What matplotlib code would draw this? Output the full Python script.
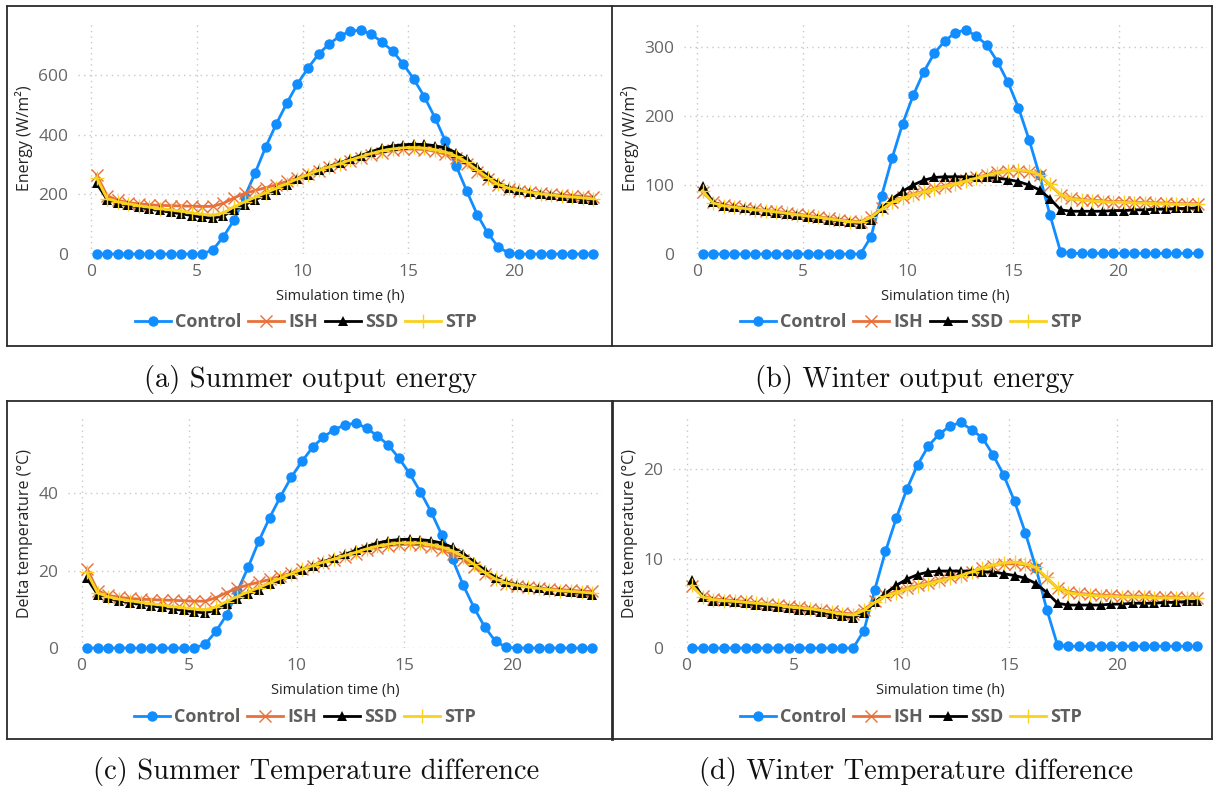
import numpy as np
import matplotlib.pyplot as plt
from matplotlib.lines import Line2D

W, H = 1214, 789

# time axis: half-hour samples
hours = np.arange(0.25, 24.0, 0.5)
series_names = ['Control', 'ISH', 'SSD', 'STP']

# (a) summer output energy (W/m2)
control_a = [0, 0, 0, 0, 0, 0, 0, 0, 0, 0, 0,
             14, 58, 114, 191, 272, 359, 436, 506, 570, 623,
             670, 704, 730, 747, 750, 736, 710, 680, 637, 586,
             527, 457, 378, 296, 212, 132, 70, 23, 3,
             0, 0, 0, 0, 0, 0, 0, 0]
ish_a = [265, 195, 180, 172, 168, 165, 163, 162, 161, 160,
         159, 160, 170, 188, 203, 213, 222, 232, 243, 255,
         267, 279, 290, 300, 311, 322, 332, 340, 347, 351,
         352, 350, 344, 334, 320, 300, 275, 250, 230, 218,
         212, 207, 203, 200, 197, 195, 193, 190]
ssd_a = [237, 182, 170, 163, 157, 151, 146, 140, 135, 129,
         123, 120, 128, 148, 165, 182, 198, 215, 232, 250,
         265, 280, 293, 305, 318, 330, 343, 355, 362, 366,
         368, 367, 363, 355, 340, 318, 290, 262, 237, 222,
         213, 207, 202, 197, 193, 189, 185, 181]
stp_a = [255, 185, 175, 168, 162, 157, 152, 148, 143, 138,
         133, 130, 138, 158, 175, 190, 205, 220, 236, 252,
         266, 280, 292, 303, 315, 326, 337, 346, 352, 356,
         357, 355, 350, 342, 328, 308, 282, 256, 233, 220,
         213, 207, 202, 198, 194, 191, 188, 185]

# (b) winter output energy (W/m2)
control_b = [0, 0, 0, 0, 0, 0, 0, 0, 0, 0, 0, 0, 0, 0, 0, 0,
             25, 84, 139, 189, 230, 264, 291, 309, 321, 325,
             316, 303, 279, 249, 212, 166, 114, 56, 3,
             1, 1, 1, 1, 1, 1, 1, 1, 1, 1, 1, 1, 1]
ish_b = [90, 75, 71, 69, 67, 65, 63, 62, 60, 58,
         56, 54, 52, 50, 48, 47, 54, 66, 76, 82,
         87, 91, 95, 99, 103, 107, 111, 115, 119, 121,
         121, 119, 114, 100, 86, 81, 79, 78, 77, 76,
         76, 75, 75, 74, 74, 73, 73, 73]
ssd_b = [98, 75, 70, 68, 66, 64, 62, 60, 58, 56,
         54, 52, 50, 48, 46, 44, 50, 66, 80, 91,
         100, 107, 111, 112, 112, 112, 111, 111, 110, 108,
         105, 100, 93, 80, 64, 62, 62, 62, 62, 63,
         63, 64, 64, 65, 65, 66, 66, 67]
stp_b = [92, 74, 70, 68, 66, 64, 63, 61, 59, 57,
         55, 53, 51, 49, 47, 46, 53, 65, 75, 81,
         86, 90, 94, 98, 102, 106, 110, 114, 118, 121,
         122, 120, 115, 101, 86, 80, 78, 77, 76, 75,
         75, 74, 74, 73, 73, 72, 72, 72]

# (c) summer temperature difference (C)
control_c = [0, 0, 0, 0, 0, 0, 0, 0, 0, 0, 0,
             1.0, 4.3, 8.6, 14.7, 20.9, 27.7, 33.7, 39.1, 44.1, 48.2,
             51.9, 54.5, 56.4, 57.6, 58.1, 56.8, 54.8, 52.5, 49.1, 45.1,
             40.4, 35.2, 29.2, 22.9, 16.2, 10.4, 5.4, 1.7, 0.2,
             0, 0, 0, 0, 0, 0, 0, 0]
ish_c = [20.5, 14.8, 13.6, 13.1, 12.8, 12.6, 12.5, 12.4, 12.3, 12.2,
         12.1, 12.1, 13.0, 14.3, 15.5, 16.3, 17.0, 17.7, 18.5, 19.4,
         20.3, 21.2, 22.0, 22.8, 23.6, 24.4, 25.2, 25.9, 26.4, 26.7,
         26.8, 26.6, 26.2, 25.4, 24.3, 22.8, 21.0, 19.0, 17.5, 16.6,
         16.1, 15.8, 15.5, 15.3, 15.1, 14.9, 14.7, 14.6]
ssd_c = [18.0, 13.8, 12.8, 12.2, 11.7, 11.3, 10.9, 10.5, 10.1, 9.7,
         9.3, 9.1, 9.8, 11.3, 12.6, 13.9, 15.1, 16.4, 17.7, 19.0,
         20.2, 21.3, 22.3, 23.2, 24.2, 25.2, 26.2, 27.1, 27.7, 28.0,
         28.1, 28.0, 27.7, 27.1, 26.0, 24.4, 22.3, 20.1, 18.2, 17.0,
         16.3, 15.8, 15.4, 15.0, 14.7, 14.4, 14.1, 13.8]
stp_c = [19.5, 14.2, 13.2, 12.6, 12.2, 11.8, 11.4, 11.1, 10.7, 10.4,
         10.1, 9.9, 10.6, 12.0, 13.3, 14.5, 15.6, 16.8, 18.0, 19.2,
         20.3, 21.3, 22.2, 23.0, 23.9, 24.7, 25.6, 26.3, 26.8, 27.1,
         27.2, 27.1, 26.7, 26.1, 25.1, 23.6, 21.6, 19.5, 17.8, 16.8,
         16.2, 15.8, 15.4, 15.1, 14.8, 14.6, 14.4, 14.2]

# (d) winter temperature difference (C)
control_d = [0, 0, 0, 0, 0, 0, 0, 0, 0, 0, 0, 0, 0, 0, 0, 0,
             1.95, 6.5, 10.8, 14.5, 17.8, 20.5, 22.6, 23.9, 24.8, 25.2,
             24.4, 23.5, 21.6, 19.3, 16.4, 12.9, 8.9, 4.3, 0.3,
             0.2, 0.2, 0.2, 0.2, 0.2, 0.2, 0.2, 0.2, 0.2, 0.2, 0.2, 0.2, 0.2]
ish_d = [6.9, 5.8, 5.5, 5.4, 5.3, 5.2, 5.0, 4.9, 4.8, 4.7,
         4.6, 4.4, 4.3, 4.1, 3.9, 3.8, 4.3, 5.2, 5.9, 6.3,
         6.7, 7.0, 7.3, 7.6, 7.9, 8.2, 8.5, 8.9, 9.2, 9.4,
         9.4, 9.3, 8.9, 7.8, 6.7, 6.3, 6.1, 6.0, 5.9, 5.9,
         5.8, 5.8, 5.8, 5.7, 5.7, 5.7, 5.6, 5.6]
ssd_d = [7.6, 5.7, 5.3, 5.2, 5.1, 5.0, 4.8, 4.7, 4.6, 4.5,
         4.3, 4.2, 4.0, 3.8, 3.6, 3.4, 3.9, 5.1, 6.1, 7.0,
         7.7, 8.2, 8.5, 8.6, 8.6, 8.6, 8.6, 8.5, 8.5, 8.3,
         8.1, 7.8, 7.2, 6.2, 5.0, 4.8, 4.8, 4.8, 4.8, 4.9,
         4.9, 5.0, 5.0, 5.0, 5.1, 5.1, 5.2, 5.2]
stp_d = [7.0, 5.7, 5.4, 5.3, 5.2, 5.1, 5.0, 4.9, 4.8, 4.6,
         4.5, 4.4, 4.2, 4.0, 3.8, 3.7, 4.2, 5.1, 5.8, 6.2,
         6.6, 6.9, 7.2, 7.5, 7.8, 8.1, 8.5, 8.9, 9.3, 9.5,
         9.6, 9.4, 9.0, 7.9, 6.7, 6.2, 6.0, 5.9, 5.8, 5.8,
         5.7, 5.7, 5.7, 5.6, 5.6, 5.6, 5.6, 5.6]

yticks_a = [0, 200, 400, 600]
yticks_b = [0, 100, 200, 300]
yticks_c = [0, 20, 40]
yticks_d = [0, 10, 20]
xticks = [0, 5, 10, 15, 20]

# styles
colors = {'Control': '#118DFF', 'ISH': '#E8703A', 'SSD': '#000000', 'STP': '#F9D21E'}
styles = {
    'Control': dict(marker='o', markersize=7.5, mew=0),
    'ISH': dict(marker='x', markersize=9, mew=1.0),
    'SSD': dict(marker='^', markersize=7.5, mew=0),
    'STP': dict(marker='+', markersize=10.5, mew=1.0),
}
chart_font = 'Open Sans'

panels = [
    # left, top, right, bottom (px), ylim top, yticks, ylabel, data, legend center, caption
    dict(box=(78, 23, 603, 254), ytop=774, yticks=yticks_a, ylabel='Energy (W/m²)',
         data=[control_a, ish_a, ssd_a, stp_a], leg=(306, 322),
         cap='(a) Summer output energy', cap_xy=(310, 380)),
    dict(box=(684, 23, 1207, 254), ytop=335, yticks=yticks_b, ylabel='Energy (W/m²)',
         data=[control_b, ish_b, ssd_b, stp_b], leg=(911, 322),
         cap='(b) Winter output energy', cap_xy=(915, 380)),
    dict(box=(68, 418, 602, 648), ytop=59.4, yticks=yticks_c, ylabel='Delta temperature (°C)',
         data=[control_c, ish_c, ssd_c, stp_c], leg=(305, 717),
         cap='(c) Summer Temperature difference', cap_xy=(316, 772)),
    dict(box=(673, 418, 1207, 648), ytop=25.7, yticks=yticks_d, ylabel='Delta temperature (°C)',
         data=[control_d, ish_d, ssd_d, stp_d], leg=(911, 717),
         cap='(d) Winter Temperature difference', cap_xy=(916, 772)),
]

fig = plt.figure(figsize=(W / 100, H / 100), dpi=100)

for p in panels:
    l, t, r, b = p['box']
    ax = fig.add_axes([l / W, 1 - b / H, (r - l) / W, (b - t) / H])
    handles = []
    for name, vals in zip(series_names, p['data']):
        ln, = ax.plot(hours, vals, color=colors[name], lw=2.0, clip_on=False,
                      **styles[name])
        handles.append(ln)
    ax.set_xlim(-0.63, 24.2)
    ax.set_ylim(0, p['ytop'])
    ax.set_xticks(xticks)
    ax.set_yticks(p['yticks'])
    ax.grid(True, color='#C8C8C8', lw=1.0, linestyle=(0, (1, 3)))
    ax.set_axisbelow(True)
    for s in ax.spines.values():
        s.set_visible(False)
    ax.tick_params(length=0, pad=7, labelsize=12.5, labelcolor='#666666')
    for lab in ax.get_xticklabels() + ax.get_yticklabels():
        lab.set_fontfamily(chart_font)
    ax.set_xlabel('Simulation time (h)', fontsize=10.5, color='#252423',
                  fontfamily=chart_font, labelpad=7)
    ax.set_ylabel(p['ylabel'], fontsize=11.5, color='#252423',
                  fontfamily=chart_font, labelpad=4)
    leg = fig.legend(handles, series_names, loc='center', ncol=4, frameon=False,
                     bbox_to_anchor=(p['leg'][0] / W, 1 - p['leg'][1] / H),
                     bbox_transform=fig.transFigure, handlelength=2.0,
                     handletextpad=0.25, columnspacing=0.35,
                     prop={'family': chart_font, 'weight': 'bold', 'size': 13})
    for txt in leg.get_texts():
        txt.set_color('#605E5C')
    fig.text(p['cap_xy'][0] / W, 1 - p['cap_xy'][1] / H, p['cap'], ha='center',
             va='center', fontsize=20.5, fontfamily='cmr10', color='#111111')

# panel frames
def frame_line(x0, y0, x1, y1, lw=1.3):
    fig.add_artist(Line2D([x0 / W, x1 / W], [1 - y0 / H, 1 - y1 / H],
                          transform=fig.transFigure, color='#2B2B2B', lw=lw))

for top, bot, mid_lw in [(6, 346, 1.3), (401, 739, 2.0)]:
    frame_line(7, top, 1212, top)
    frame_line(7, bot, 1212, bot)
    frame_line(7, top, 7, bot)
    frame_line(1212, top, 1212, bot)
    frame_line(612, top, 612, bot, mid_lw)

fig.savefig('out.png', dpi=100)
